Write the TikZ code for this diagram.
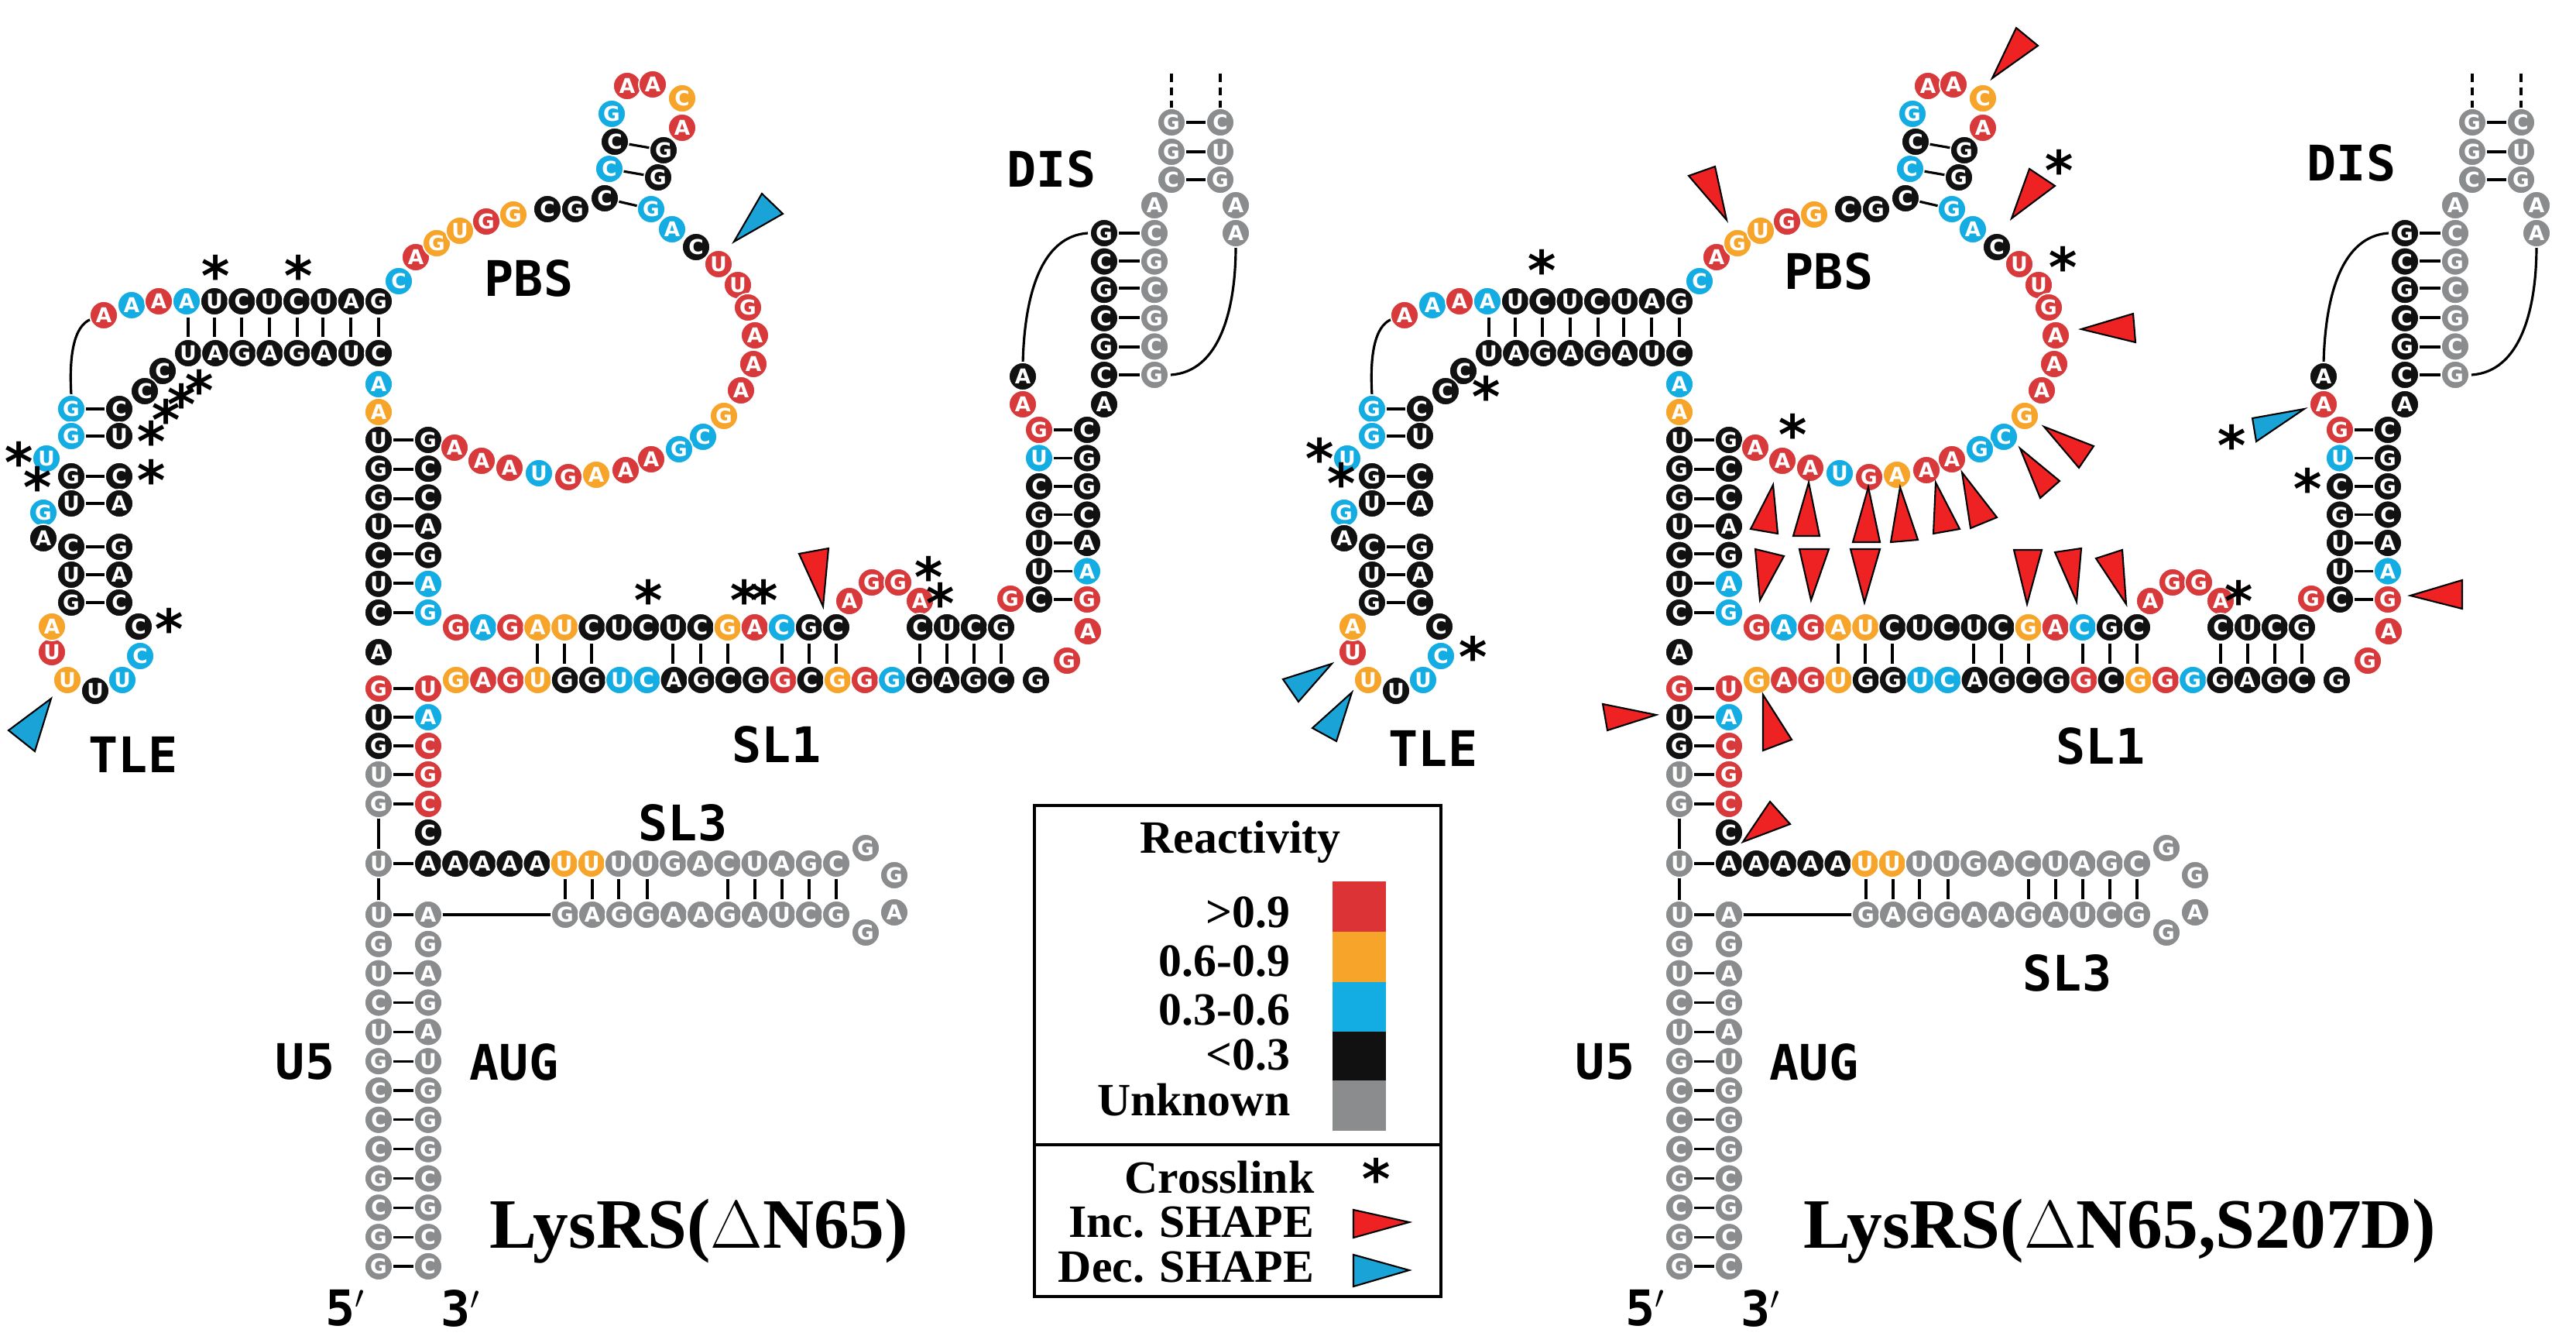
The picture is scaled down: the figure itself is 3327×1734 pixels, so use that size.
\documentclass[tikz,border=0pt]{standalone}
\usepackage{fontspec}
\setmainfont{Liberation Serif}
\newfontfamily\labf{DejaVu Sans Mono}
\newfontfamily\ntfont{DejaVu Sans}
\definecolor{cr}{HTML}{D83A3C}
\definecolor{co}{HTML}{F6A52A}
\definecolor{cb}{HTML}{13ACE3}
\definecolor{ck}{HTML}{111111}
\definecolor{cg}{HTML}{8A8C8E}
\definecolor{ared}{HTML}{EE2222}
\definecolor{ablue}{HTML}{1AA3D6}
\tikzset{
 nt/.style={circle,inner sep=0pt,minimum size=0.36cm,draw=white,line width=0.5pt,text=white,font=\ntfont\bfseries\fontsize{7.5}{7.5}\selectfont},
 lbl/.style={font=\labf\bfseries\fontsize{18}{18}\selectfont,inner sep=0pt},
 star/.style={font=\labf\bfseries\fontsize{20}{20}\selectfont,inner sep=0pt},
 pr/.style={line width=0.9pt},
 tri/.style={draw=black,line width=0.6pt,line join=miter},
 leg/.style={font=\bfseries\fontsize{17}{17}\selectfont,inner sep=0pt},
 ttl/.style={font=\bfseries\fontsize{26}{26}\selectfont,inner sep=0pt}
}
\newcommand\NTS[1]{\foreach \x/\y/\L/\C in {#1}{\node[nt,fill=c\C] at (\x,\y) {\L};}}
\newcommand\SEG[6]{\foreach \L/\C [count=\i from 0] in {#6}{\pgfmathsetmacro\tq{\i/(#5-1)}\node[nt,fill=c\C] at ({#1+\tq*(#3-#1)},{#2+\tq*(#4-#2)}) {\L};}}
\newcommand\HP[3]{\draw[pr] (#1+19,#3) -- (#2-19,#3);}
\newcommand\VT[3]{\draw[pr] (#1,#2) -- (#1,#3);}
\newcommand\STARS[1]{\foreach \x/\y in {#1}{\node[star] at (\x,\y+6) {*};}}
\newcommand\TRI[7]{\draw[tri,fill=#7] (#1,#2) -- (#3,#4) -- (#5,#6) -- cycle;}
\newcommand\RNA{%
 % ---- lines
 \foreach \x in {243,277,312,348,384,417,453,489}{\VT{\x}{410}{435}}
 \foreach \y in {528,563,615,650,706,742,778}{\HP{92}{154}{\y}}
 \draw[pr] (92,510) .. controls (89,460) and (95,420) .. (118,412);
 \foreach \y in {568,606,644,679,715,753,791,889,926,963,1000,1038,1115}{\HP{489}{553}{\y}}
 \draw[pr] (489,1038) -- (489,1181);
 \draw[pr] (553,1181) -- (730,1181);
 \foreach \x in {730,765,799,836,940,975,1010,1045,1080}{\VT{\x}{1135}{1161}}
 \foreach \i in {0,2,3,4,5,6,7,8,9,10,11,12}{\pgfmathsetmacro\yy{1181+\i*37.83}\HP{489}{553}{\yy}}
 \foreach \x in {694,729,764,869,905,940,1010,1045,1080,1188,1223,1258,1293}{\VT{\x}{831}{857}}
 \foreach \i in {0,...,6}{\pgfmathsetmacro\yy{555+\i*36.5}\HP{1342}{1404}{\yy}}
 \foreach \y in {301,337,372,410,448,484}{\HP{1426}{1491}{\y}}
 \foreach \y in {158,196,232}{\HP{1513}{1576}{\y}}
 \draw[pr,densely dashed] (1513,95) -- (1513,140) (1576,95) -- (1576,140);
 \draw[pr] (1321,470) .. controls (1323,380) and (1345,305) .. (1405,301);
 \draw[pr] (1512,484) .. controls (1575,480) and (1596,400) .. (1596,318);
 \draw[pr] (781,256) -- (841,270) (787,218) -- (850,229) (794,183) -- (857,194);
 % ---- TLE
 \NTS{134/407/A/r,170/394/A/b,205/389/A/r,241/389/A/b}
 \SEG{277}{389}{489}{389}{7}{U/k,C/k,U/k,C/k,U/k,A/k,G/k}
 \SEG{243}{456}{489}{456}{8}{U/k,A/k,G/k,A/k,G/k,A/k,U/k,C/k}
 \NTS{210/479/C/k,187/505/C/k,154/528/C/k,92/528/G/b,154/563/U/k,92/563/G/b,60/592/U/b,
  92/615/G/k,154/615/C/k,92/650/U/k,154/650/A/k,56/662/G/b,56/695/A/k,92/706/C/k,154/706/G/k,
  92/742/U/k,154/742/A/k,92/778/G/k,154/778/C/k,179/809/C/k,181/847/C/b,158/878/U/b,
  123/892/U/k,87/878/U/o,67/842/U/r,67/809/A/o}
 % ---- main stem
 \NTS{489/496/A/b,489/532/A/o,489/842/A/k}
 \SEG{489}{568}{489}{791}{7}{U/k,G/k,G/k,U/k,C/k,U/k,C/k}
 \SEG{553}{568}{553}{791}{7}{G/k,C/k,C/k,A/k,G/k,A/b,G/b}
 \NTS{489/889/G/r,553/889/U/r,489/926/U/k,553/926/A/b,489/963/G/k,553/963/C/r,
  489/1000/U/g,553/1000/G/r,489/1038/G/g,553/1038/C/r,553/1075/C/k,489/1115/U/g}
 \SEG{489}{1181}{489}{1635}{13}{U/g,G/g,U/g,C/g,U/g,G/g,C/g,C/g,C/g,G/g,C/g,G/g,G/g}
 \SEG{553}{1181}{553}{1635}{13}{A/g,G/g,A/g,G/g,A/g,U/g,G/g,G/g,G/g,C/g,G/g,C/g,C/g}
 % ---- SL3
 \SEG{553}{1115}{1080}{1115}{16}{A/k,A/k,A/k,A/k,A/k,U/o,U/o,U/g,U/g,G/g,A/g,C/g,U/g,A/g,G/g,C/g}
 \NTS{1118/1095/G/g,1155/1130/G/g,1155/1178/A/g,1118/1204/G/g}
 \SEG{730}{1181}{1080}{1181}{11}{G/g,A/g,G/g,G/g,A/g,A/g,G/g,A/g,U/g,C/g,G/g}
 % ---- SL1
 \SEG{589}{810}{1080}{810}{15}{G/r,A/b,G/r,A/o,U/o,C/k,U/k,C/k,U/k,C/k,G/o,A/r,C/b,G/k,C/k}
 \NTS{1097/776/A/r,1126/752/G/r,1160/752/G/r,1188/776/A/r}
 \SEG{1188}{810}{1293}{810}{4}{C/k,U/k,C/k,G/k}
 \SEG{589}{878}{1293}{878}{21}{G/o,A/r,G/r,U/o,G/k,G/k,U/b,C/b,A/k,G/k,C/k,G/k,G/r,C/k,G/o,G/r,G/b,G/k,A/k,G/k,C/k}
 \NTS{1338/878/G/k,1378/853/G/r,1405/815/A/r,1305/773/G/r}
 % ---- DIS
 \SEG{1342}{555}{1342}{774}{7}{G/r,U/b,C/k,G/k,U/k,U/k,C/k}
 \SEG{1404}{555}{1404}{774}{7}{C/k,G/k,G/k,C/k,A/k,A/b,G/r}
 \NTS{1321/522/A/r,1321/486/A/k,1426/522/A/k}
 \SEG{1426}{301}{1426}{484}{6}{G/k,C/k,G/k,C/k,G/k,C/k}
 \SEG{1491}{301}{1491}{484}{6}{C/g,G/g,C/g,G/g,C/g,G/g}
 \NTS{1491/265/A/g,1513/158/G/g,1513/196/G/g,1513/232/C/g,1576/158/C/g,1576/196/U/g,1576/232/G/g,
  1596/265/A/g,1596/301/A/g}
 % ---- PBS
 \NTS{515/363/C/b,537/332/A/r,564/314/G/o,594/298/U/o,628/286/G/r,663/277/G/o,707/270/C/k,743/270/G/k,781/256/C/k,
  787/218/C/b,850/229/G/k,794/183/C/k,857/194/G/k,790/147/G/b,810/111/A/r,843/109/A/r,881/127/C/o,881/165/A/r,
  841/270/G/b,868/296/A/b,899/319/C/k,928/341/U/r,953/368/U/r,966/397/G/r,975/433/A/r,973/470/A/r,957/504/A/r,
  935/537/G/o,908/564/C/b,877/580/G/b,841/593/A/r,808/607/A/r,770/613/A/o,734/616/G/r,696/611/U/b,658/604/A/r,
  622/595/A/r,587/578/A/r}
}
\begin{document}
\begin{tikzpicture}[x=0.01cm,y=-0.01cm]
\path[use as bounding box,fill=white] (0,0) rectangle (3327,1734);
% ================= LEFT
\begin{scope}
\RNA
\node[lbl] (tle1) at (172,974) {TLE};
\node[lbl] (pbs1) at (683,359) {PBS};
\node[lbl] (dis1) at (1358,218) {DIS};
\node[lbl] (sl11) at (1003,961) {SL1};
\node[lbl] (sl31) at (882,1062) {SL3};
\node[lbl] (u51) at (394,1371) {U5};
\node[lbl] (aug1) at (664,1371) {AUG};
\node[lbl] (p51) at (446,1689) {5$'$};
\node[lbl] (p31) at (595,1689) {3$'$};
\end{scope}
\STARS{279/349,386/349,215/535,235/515,258/497,196/563,25/590,49/622,196/613,219/805,838/768,962/768,987/768,1200/738,1215/772}
\TRI{66}{902}{11}{943}{45}{970}{ablue}
\TRI{948}{312}{1011}{276}{984}{250}{ablue}
\TRI{1063}{783}{1032}{715}{1070}{708}{ared}
\node[ttl] (t1) at (903,1590) {LysRS($\Delta$N65)};
% ================= RIGHT
\begin{scope}[xshift=16.79cm]
\RNA
\end{scope}
\node[lbl] (tle2) at (1851,966) {TLE};
\node[lbl] (pbs2) at (2362,350) {PBS};
\node[lbl] (dis2) at (3037,210) {DIS};
\node[lbl] (sl12) at (2713,963) {SL1};
\node[lbl] (sl32) at (2670,1256) {SL3};
\node[lbl] (u52) at (2073,1371) {U5};
\node[lbl] (aug2) at (2343,1371) {AUG};
\node[lbl] (p52) at (2125,1689) {5$'$};
\node[lbl] (p32) at (2274,1689) {3$'$};
\STARS{1992/342,1920/505,1705/585,1733/617,1903/841,2316/554,2660/213,2665/338,2892/769,2883/568,2981/624}
\foreach \a/\b/\c/\d/\e/\f in {2230/284/2181/227/2215/215, 2573/101/2604/36/2632/59, 2598/282/2621/218/2654/240,
 2688/425/2755/405/2758/442, 2640/551/2704/576/2685/604, 2609/579/2660/621/2635/643, 2534/610/2579/668/2545/682,
 2500/623/2497/689/2531/683, 2454/629/2442/700/2477/697, 2413/629/2393/700/2428/700, 2336/623/2316/692/2350/692,
 2290/626/2261/683/2296/689, 2273/775/2267/709/2304/718, 2339/775/2324/709/2362/709, 2408/778/2390/709/2428/709,
 2618/780/2601/710/2637/710, 2682/777/2654/713/2688/708, 2746/780/2707/721/2741/710, 3113/769/3180/749/3180/786,
 2139/923/2070/909/2076/943, 2277/897/2277/969/2314/955, 2251/1087/2286/1035/2312/1064}{\TRI{\a}{\b}{\c}{\d}{\e}{\f}{ared}}
\TRI{1720}{857}{1657}{877}{1677}{906}{ablue}
\TRI{1746}{894}{1695}{940}{1726}{957}{ablue}
\TRI{2976}{528}{2909}{540}{2914}{570}{ablue}
\node[ttl] (t2) at (2738,1590) {LysRS($\Delta$N65,S207D)};
% ================= LEGEND
\draw[line width=1.2pt] (1336,1040) rectangle (1861,1674);
\draw[line width=1.2pt] (1336,1478) -- (1861,1478);
\node[leg] (rx) at (1602,1087) {Reactivity};
\fill[cr!90!red] (1721,1138) rectangle (1790,1203);
\fill[co] (1721,1203) rectangle (1790,1268);
\fill[cb] (1721,1268) rectangle (1790,1332);
\fill[ck] (1721,1332) rectangle (1790,1395);
\fill[cg] (1721,1395) rectangle (1790,1460);
\node[leg,anchor=east] (l1) at (1667,1178) {>0.9};
\node[leg,anchor=east] (l2) at (1667,1241) {0.6-0.9};
\node[leg,anchor=east] (l3) at (1667,1304) {0.3-0.6};
\node[leg,anchor=east] (l4) at (1667,1362) {<0.3};
\node[leg,anchor=east] (l5) at (1667,1420) {Unknown};
\node[leg,anchor=east] (c1) at (1698,1520) {Crosslink};
\node[leg,anchor=east] (c2) at (1698,1578) {Inc. SHAPE};
\node[leg,anchor=east] (c3) at (1698,1636) {Dec. SHAPE};
\node[star] (cs) at (1778,1521) {*};
\TRI{1820}{1578}{1748}{1562}{1748}{1598}{ared}
\TRI{1820}{1640}{1748}{1620}{1748}{1661}{ablue}
\end{tikzpicture}
\end{document}
